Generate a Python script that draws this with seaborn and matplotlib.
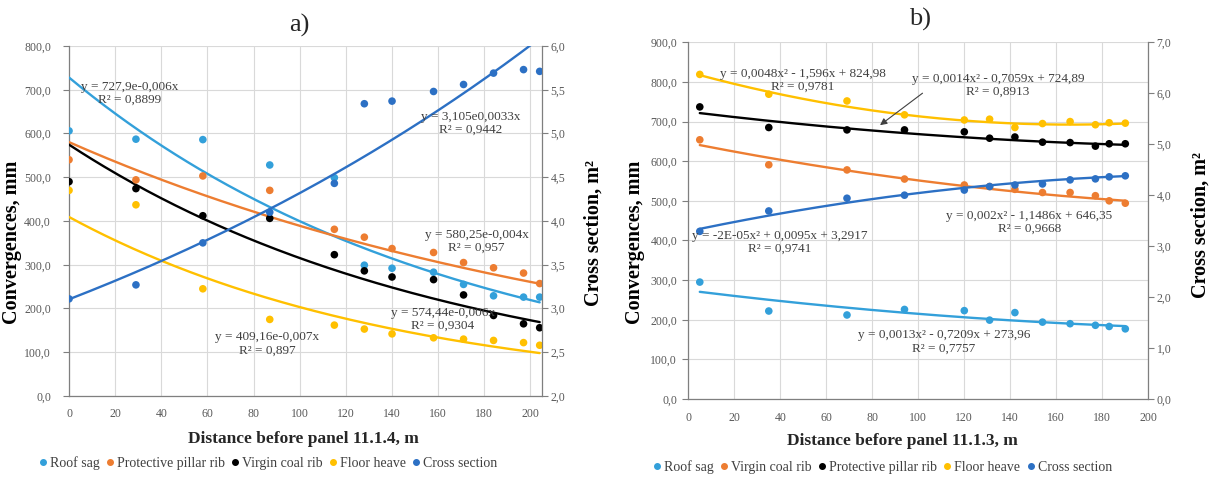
import matplotlib
matplotlib.use("Agg")
import matplotlib.pyplot as plt
import seaborn as sns
import numpy as np
from matplotlib.ticker import FuncFormatter, MultipleLocator
from matplotlib.lines import Line2D

# --- panel a) : distance before panel 11.1.4 ---
dist_a = [0, 29, 58, 87, 115, 128, 140, 158, 171, 184, 197, 204]
roof_a = [606, 587, 586, 528, 499, 299, 292, 283, 255, 229, 226, 226]
pillar_a = [540, 494, 503, 470, 381, 363, 337, 328, 305, 293, 281, 257]
virgin_a = [490, 474, 412, 406, 323, 286, 272, 266, 231, 184, 165, 156]
floor_a = [470, 437, 245, 175, 162, 153, 142, 133, 130, 127, 122, 116]
cross_a = [3.11, 3.27, 3.75, 4.10, 4.43, 5.34, 5.37, 5.48, 5.56, 5.69, 5.73, 5.71]

# exponential trendlines y = a*e^(b*x), as printed on the chart
fit_roof_a = [727.9, -0.006]
fit_pillar_a = [580.25, -0.004]
fit_virgin_a = [574.44, -0.006]
fit_floor_a = [409.16, -0.007]
fit_cross_a = [3.105, 0.0033]

# --- panel b) : distance before panel 11.1.3 ---
dist_b = [5, 35, 69, 94, 120, 131, 142, 154, 166, 177, 183, 190]
roof_b = [295, 222, 212, 226, 223, 199, 218, 194, 190, 186, 183, 177]
virgin_b = [654, 591, 578, 555, 540, 536, 529, 521, 521, 513, 500, 494]
pillar_b = [737, 685, 679, 679, 674, 658, 661, 648, 647, 638, 644, 644]
floor_b = [819, 769, 752, 717, 704, 706, 685, 695, 700, 692, 697, 696]
cross_b = [3.29, 3.69, 3.94, 4.00, 4.10, 4.17, 4.20, 4.22, 4.30, 4.32, 4.36, 4.38]

# polynomial trendlines y = a*x^2 + b*x + c
fit_roof_b = [0.0013, -0.7209, 273.96]
fit_virgin_b = [0.002, -1.1486, 646.35]
fit_pillar_b = [0.0014, -0.7059, 724.89]
fit_floor_b = [0.0048, -1.596, 824.98]
fit_cross_b = [-2e-05, 0.0095, 3.2917]

c_roof = "#33a0da"
c_orange = "#ed7d31"
c_black = "#000000"
c_yellow = "#ffc000"
c_cross = "#2c70c4"
txt_gray = "#404040"
tick_gray = "#595959"

sns.set_style("white")
plt.rcParams['font.family'] = ['Liberation Serif', 'DejaVu Serif']


def comma(d):
    return FuncFormatter(lambda v, _: f"{v:.{d}f}".replace(".", ","))


def exp_curve(x, p):
    xs = np.linspace(min(x), max(x), 200)
    return xs, p[0] * np.exp(p[1] * xs)


def quad_curve(x, p):
    xs = np.linspace(min(x), max(x), 200)
    return xs, p[0] * xs ** 2 + p[1] * xs + p[2]


def style_axes(ax, ax2, lpad):
    ax.grid(True, color="#d9d9d9", linewidth=0.8)
    ax.set_axisbelow(True)
    ax.spines["top"].set_visible(False)
    ax2.spines["top"].set_visible(False)
    for sp in [ax.spines["left"], ax.spines["bottom"], ax2.spines["right"]]:
        sp.set_color("#7f7f7f")
        sp.set_linewidth(0.9)
    ax.spines["right"].set_visible(False)
    ax2.spines["left"].set_visible(False)
    ax2.spines["bottom"].set_visible(False)
    for a in (ax, ax2):
        a.tick_params(direction="out", length=4, width=0.8, color="#7f7f7f",
                      labelsize=8.5, labelcolor=tick_gray)
    ax.tick_params(axis="y", pad=lpad)
    ax.tick_params(axis="x", pad=5)
    ax2.tick_params(axis="y", pad=2)
    ax.set_xlabel("")
    ax.set_ylabel("")
    ax2.set_ylabel("")


def panel(ax, x, series, fits, kind, cross, fit_cross, lpad):
    ax2 = ax.twinx()
    curve = exp_curve if kind == "exp" else quad_curve
    for (y, c), p in zip(series, fits):
        xs, ys = curve(x, p)
        sns.lineplot(x=xs, y=ys, ax=ax, color=c, linewidth=1.7, zorder=3)
        sns.scatterplot(x=x, y=y, ax=ax, color=c, s=30, edgecolor="none", zorder=4)
    xs, ys = curve(x, fit_cross)
    sns.lineplot(x=xs, y=ys, ax=ax2, color=c_cross, linewidth=1.7, zorder=3)
    sns.scatterplot(x=x, y=cross, ax=ax2, color=c_cross, s=30, edgecolor="none", zorder=4)
    style_axes(ax, ax2, lpad)
    return ax2


fig = plt.figure(figsize=(12.09, 4.79), dpi=100)
ax_a = fig.add_axes([0.0571, 0.1733, 0.3912, 0.7307])
ax_b = fig.add_axes([0.5693, 0.1670, 0.3805, 0.7447])

# ---- panel a
ax2_a = panel(ax_a, dist_a,
              [(roof_a, c_roof), (pillar_a, c_orange), (virgin_a, c_black), (floor_a, c_yellow)],
              [fit_roof_a, fit_pillar_a, fit_virgin_a, fit_floor_a], "exp", cross_a, fit_cross_a, 9)
ax_a.set_xlim(0, 205)
ax_a.set_ylim(0, 800)
ax2_a.set_ylim(2, 6)
ax_a.xaxis.set_major_locator(MultipleLocator(20))
ax_a.yaxis.set_major_locator(MultipleLocator(100))
ax2_a.yaxis.set_major_locator(MultipleLocator(0.5))
ax_a.yaxis.set_major_formatter(comma(1))
ax2_a.yaxis.set_major_formatter(comma(1))

notes_a = [
    ("y = 727,9e-0,006x\nR² = 0,8899", 0.129, 0.865),
    ("y = 3,105e0,0033x\nR² = 0,9442", 0.849, 0.780),
    ("y = 580,25e-0,004x\nR² = 0,957", 0.862, 0.441),
    ("y = 574,44e-0,006x\nR² = 0,9304", 0.790, 0.220),
    ("y = 409,16e-0,007x\nR² = 0,897", 0.419, 0.149),
]
for t, x, y in notes_a:
    ax2_a.text(x, y, t, transform=ax_a.transAxes, ha="center", va="center",
               fontsize=9.5, color=txt_gray, linespacing=1.1, zorder=6)

ax_a.text(0.486, 1.06, "a)", transform=ax_a.transAxes, ha="center", va="center", fontsize=19)

# ---- panel b
ax2_b = panel(ax_b, dist_b,
              [(roof_b, c_roof), (virgin_b, c_orange), (pillar_b, c_black), (floor_b, c_yellow)],
              [fit_roof_b, fit_virgin_b, fit_pillar_b, fit_floor_b], "quad", cross_b, fit_cross_b, 4)
ax_b.set_xlim(0, 200)
ax_b.set_ylim(0, 900)
ax2_b.set_ylim(0, 7)
ax_b.xaxis.set_major_locator(MultipleLocator(20))
ax_b.yaxis.set_major_locator(MultipleLocator(100))
ax2_b.yaxis.set_major_locator(MultipleLocator(1))
ax_b.yaxis.set_major_formatter(comma(1))
ax2_b.yaxis.set_major_formatter(comma(1))

notes_b = [
    ("y = 0,0048x² - 1,596x + 824,98\nR² = 0,9781", 0.249, 0.894),
    ("y = 0,0014x² - 0,7059x + 724,89\nR² = 0,8913", 0.673, 0.879),
    ("y = 0,002x² - 1,1486x + 646,35\nR² = 0,9668", 0.741, 0.495),
    ("y = -2E-05x² + 0,0095x + 3,2917\nR² = 0,9741", 0.199, 0.440),
    ("y = 0,0013x² - 0,7209x + 273,96\nR² = 0,7757", 0.556, 0.160),
]
for t, x, y in notes_b:
    ax2_b.text(x, y, t, transform=ax_b.transAxes, ha="center", va="center",
               fontsize=9.5, color=txt_gray, linespacing=1.1, zorder=6)
ax2_b.annotate("", xy=(0.412, 0.763), xytext=(0.514, 0.862),
               xycoords=ax_b.transAxes, textcoords=ax_b.transAxes,
               arrowprops=dict(arrowstyle="-|>", color="#404040", lw=0.8, mutation_scale=10))

ax_b.text(0.504, 1.063, "b)", transform=ax_b.transAxes, ha="center", va="center", fontsize=19)

# ---- axis labels
lab = dict(fontsize=14.5, fontweight="bold", color="#000000")
for ax, ax2, xl, lx, ly, rx, ry, bx, by in [
    (ax_a, ax2_a, "Distance before panel 11.1.4, m", -0.100, 0.44, 1.087, 0.466, 0.495, -0.10),
    (ax_b, ax2_b, "Distance before panel 11.1.3, m", -0.094, 0.44, 1.092, 0.488, 0.465, -0.095),
]:
    ax.set_ylabel("Convergences, mm", **lab)
    ax.yaxis.set_label_coords(lx, ly)
    ax2.set_ylabel("Cross section, m²", rotation=90, **lab)
    ax2.yaxis.set_label_coords(rx, ry)
    ax.set_xlabel(xl, fontsize=12.5, fontweight="bold")
    ax.xaxis.set_label_coords(bx, by)


# ---- legends
def handles(colors):
    return [Line2D([], [], marker="o", ls="", color=c, markersize=4) for c in colors]


leg_kw = dict(loc="center", ncol=5, frameon=False, handlelength=0.5, handletextpad=0.25,
              columnspacing=0.5, fontsize=10, labelcolor=txt_gray)
fig.legend(handles([c_roof, c_orange, c_black, c_yellow, c_cross]),
           ["Roof sag", "Protective pillar rib", "Virgin coal rib", "Floor heave", "Cross section"],
           bbox_to_anchor=(0.222, 0.0334), **leg_kw)
fig.legend(handles([c_roof, c_orange, c_black, c_yellow, c_cross]),
           ["Roof sag", "Virgin coal rib", "Protective pillar rib", "Floor heave", "Cross section"],
           bbox_to_anchor=(0.730, 0.025), **leg_kw)

fig.savefig("out.png", dpi=100)
